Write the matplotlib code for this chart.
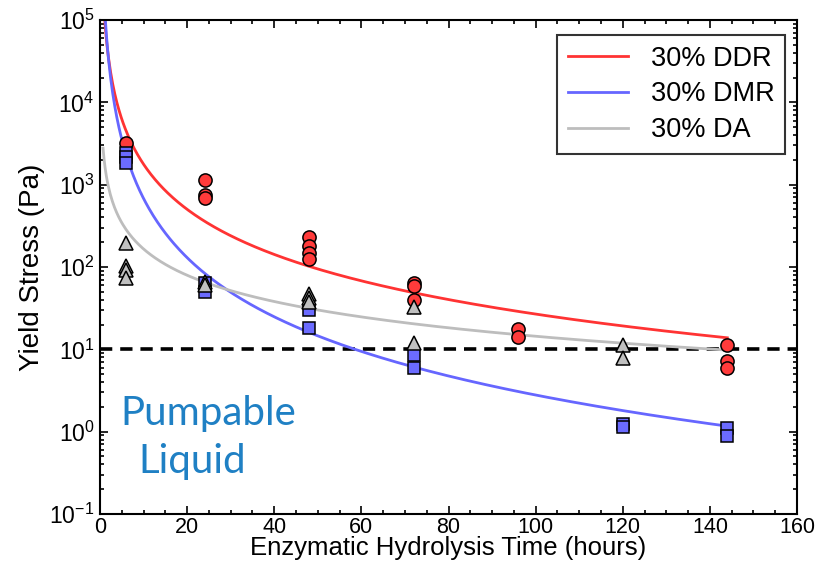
import numpy as np
import matplotlib
matplotlib.use("Agg")
import matplotlib.pyplot as plt
from matplotlib.ticker import MultipleLocator, LogLocator, NullFormatter

plt.rcParams['font.family'] = ['Liberation Sans', 'DejaVu Sans']
plt.rcParams['mathtext.fontset'] = 'custom'
plt.rcParams['mathtext.rm'] = 'Liberation Sans'
plt.rcParams['mathtext.it'] = 'Liberation Sans'

# Data (hours, Pa)
ddr_t = [6, 24, 24, 24, 48, 48, 48, 48, 72, 72, 72, 96, 96, 144, 144, 144]
ddr_y = [3200, 1150, 750, 690, 230, 180, 150, 125, 64, 58, 40, 17.5, 14.2, 11.2, 7.3, 5.9]

dmr_t = [6, 6, 6, 24, 24, 48, 48, 72, 72, 120, 120, 144, 144]
dmr_y = [2450, 2150, 1850, 64, 50, 30, 18, 8.5, 6.0, 1.25, 1.13, 1.1, 0.88]

da_t = [6, 6, 6, 6, 24, 24, 48, 48, 48, 72, 72, 120, 120]
da_y = [195, 104, 92, 73, 66, 60, 47, 42, 38, 33, 12, 11.2, 7.8]

# Power-law fit parameters y = a * t^b, with fitted time range
fit_labels = ['30% DDR', '30% DMR', '30% DA']
fit_a = [117000, 165600, 1900]
fit_b = [-1.82, -2.387, -1.06]
fit_tstart = [1.0, 1.0, 0.7]
fit_tend = [144, 144, 144]

threshold = 10

c_red = '#ff3b3b'
c_blue = '#6b6bff'
c_gray = '#c0c0c0'
line_colors = ['#ff3333', '#6666ff', '#bdbdbd']

fig = plt.figure(figsize=(8.21, 5.66), dpi=100)
ax = fig.add_axes([100/821, 1-514/566, 697/821, 494/566])

ax.axhline(threshold, color='black', lw=2.6, ls=(0, (3.4, 2.2)), zorder=1)

for lab, a, b, t0, t1, col in zip(fit_labels, fit_a, fit_b, fit_tstart, fit_tend, line_colors):
    t = np.linspace(t0, t1, 600)
    ax.plot(t, a * t ** b, color=col, lw=2, label=lab, zorder=2)

ms = 9.5
ax.plot(ddr_t, ddr_y, 'o', ms=ms, mfc=c_red, mec='black', mew=1.1, zorder=3, label='_nolegend_')
ax.plot(dmr_t, dmr_y, 's', ms=ms-0.5, mfc=c_blue, mec='black', mew=1.1, zorder=4, label='_nolegend_')
ax.plot(da_t, da_y, '^', ms=ms, mfc=c_gray, mec='black', mew=1.1, zorder=5, label='_nolegend_')

ax.set_yscale('log')
ax.set_xlim(0, 160)
ax.set_ylim(0.1, 1e5)
ax.xaxis.set_major_locator(MultipleLocator(20))
ax.xaxis.set_minor_locator(MultipleLocator(5))
ax.yaxis.set_major_locator(LogLocator(base=10, numticks=10))
ax.yaxis.set_minor_locator(LogLocator(base=10, subs=np.arange(2, 10), numticks=20))
ax.yaxis.set_minor_formatter(NullFormatter())

ax.tick_params(which='both', direction='in', top=True, right=True, width=1.2)
ax.tick_params(axis='x', labelsize=15.5, pad=2)
ax.tick_params(axis='y', labelsize=16.5, pad=4)
ax.tick_params(which='major', length=6)
ax.tick_params(which='minor', length=3)
for s in ax.spines.values():
    s.set_linewidth(1.5)

ax.set_xlabel('Enzymatic Hydrolysis Time (hours)', fontsize=18.5, labelpad=-1)
ax.set_ylabel('Yield Stress (Pa)', fontsize=20, labelpad=3)

leg = ax.legend(loc='upper right', bbox_to_anchor=(0.983, 0.970), borderaxespad=0,
                fontsize=19.5, frameon=True, fancybox=False, edgecolor='black',
                handlelength=2.2, handletextpad=0.85, labelspacing=0.36, borderpad=0.4)
leg.get_frame().set_linewidth(1.5)

txt_color = '#1f80c4'
ax.text((208-100)/697, 1-(413-20)/494, 'Pumpable', transform=ax.transAxes,
        ha='center', va='center', fontsize=29, color=txt_color, family=['Lato', 'DejaVu Sans'])
ax.text((192-100)/697, 1-(461-20)/494, 'Liquid', transform=ax.transAxes,
        ha='center', va='center', fontsize=29, color=txt_color, family=['Lato', 'DejaVu Sans'])

fig.savefig('out.png', dpi=100)
